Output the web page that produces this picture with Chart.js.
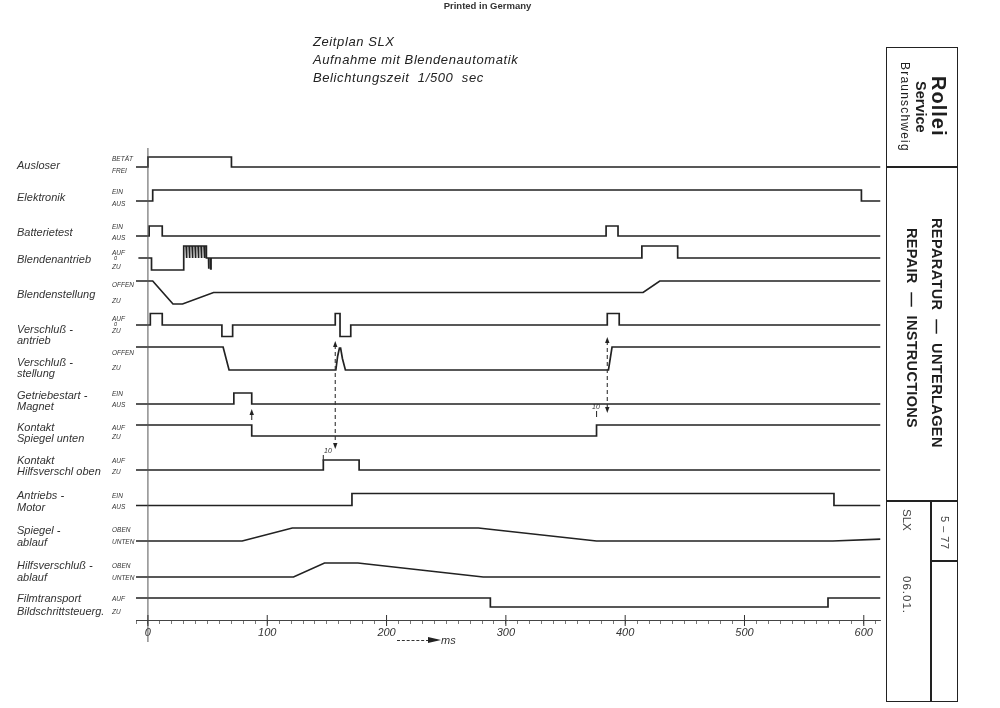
<!DOCTYPE html>
<html><head><meta charset="utf-8">
<script src="https://cdn.jsdelivr.net/npm/chart.js@4.4.1/dist/chart.umd.min.js"></script>
<style>
html,body{margin:0;padding:0;background:#fff;}
#wrap{position:relative;width:1000px;height:708px;overflow:hidden;font-family:"Liberation Sans",Arial,sans-serif;color:#2a2a2a;}
#c{position:absolute;left:0;top:0;}
.t{position:absolute;white-space:nowrap;}
.lbl{font-style:italic;font-size:11px;line-height:12px;left:17px;color:#333;}
.st{font-style:italic;font-size:6.5px;line-height:7px;left:112px;color:#333;}
.ttl{font-style:italic;font-size:13px;line-height:18px;left:313px;letter-spacing:0.6px;color:#222;}
.v{position:absolute;writing-mode:vertical-rl;text-align:center;white-space:nowrap;color:#1e1e1e;}
.ln{position:absolute;background:#222;}
</style></head>
<body><div id="wrap">
<canvas id="c" width="1000" height="708"></canvas>
<div class="t" style="left:0;width:975px;text-align:center;top:0;font-size:9.5px;font-weight:bold;color:#333;">Printed in Germany</div>
<div class="t ttl" style="top:33px;">Zeitplan SLX</div>
<div class="t ttl" style="top:51px;">Aufnahme mit Blendenautomatik</div>
<div class="t ttl" style="top:69px;">Belichtungszeit&nbsp; 1/500&nbsp; sec</div>
<div id="labels"></div>
<div class="t" style="left:397px;top:640px;width:32px;border-top:1.5px dashed #333;"></div>
<div class="t" style="left:428px;top:637px;width:0;height:0;border-top:3.5px solid transparent;border-bottom:3.5px solid transparent;border-left:13px solid #222;"></div>
<div class="t" style="left:441px;top:634px;font-style:italic;font-size:11px;color:#333;">ms</div>
<div class="t" style="left:324px;top:447px;font-style:italic;font-size:7px;color:#333;">10</div>
<div class="t" style="left:592px;top:403px;font-style:italic;font-size:7px;color:#333;">10</div>
<!-- right panel -->
<div class="t" style="left:886px;top:47px;width:72px;height:655px;border:1.5px solid #222;box-sizing:border-box;"></div>
<div class="ln" style="left:886px;top:166px;width:72px;height:1.5px;"></div>
<div class="ln" style="left:886px;top:500px;width:72px;height:1.5px;"></div>
<div class="ln" style="left:930px;top:500px;width:1.5px;height:202px;"></div>
<div class="ln" style="left:930px;top:560px;width:28px;height:1.5px;"></div>
<div class="v" style="left:928px;top:47px;height:119px;width:21px;line-height:21px;font-size:20px;font-weight:bold;letter-spacing:1px;">Rollei</div>
<div class="v" style="left:913px;top:47px;height:119px;width:15px;line-height:15px;font-size:14.5px;font-weight:bold;">Service</div>
<div class="v" style="left:898px;top:47px;height:119px;width:13px;line-height:13px;font-size:12px;letter-spacing:1.2px;">Braunschweig</div>
<div class="v" style="left:929px;top:166px;height:334px;width:16px;line-height:16px;font-size:14.5px;font-weight:bold;letter-spacing:0.4px;">REPARATUR&nbsp; —&nbsp; UNTERLAGEN</div>
<div class="v" style="left:904px;top:166px;height:324px;width:16px;line-height:16px;font-size:14.5px;font-weight:bold;letter-spacing:0.3px;">REPAIR&nbsp; —&nbsp; INSTRUCTIONS</div>
<div class="v" style="left:900px;top:509px;width:13px;line-height:13px;font-size:11.5px;text-align:left;color:#444;">SLX</div>
<div class="v" style="left:900px;top:576px;width:13px;line-height:13px;font-size:11.5px;text-align:left;letter-spacing:1px;color:#444;">06.01.</div>
<div class="v" style="left:938px;top:516px;width:13px;line-height:13px;font-size:11px;text-align:left;letter-spacing:0.5px;color:#444;">5 – 77</div>
</div>
<script>
// ---------------- DATA ----------------
const tickLabels = [0, 100, 200, 300, 400, 500, 600];
const signalNames = [["Ausloser"],["Elektronik"],["Batterietest"],["Blendenantrieb"],["Blendenstellung"],
  ["Verschluß -","antrieb"],["Verschluß -","stellung"],["Getriebestart -","Magnet"],["Kontakt","Spiegel unten"],
  ["Kontakt","Hilfsverschl oben"],["Antriebs -","Motor"],["Spiegel -","ablauf"],["Hilfsverschluß -","ablauf"],
  ["Filmtransport","Bildschrittsteuerg."]];
const stateLabels = [["BETÄT","FREI"],["EIN","AUS"],["EIN","AUS"],["AUF","0","ZU"],["OFFEN","ZU"],["AUF","0","ZU"],
  ["OFFEN","ZU"],["EIN","AUS"],["AUF","ZU"],["AUF","ZU"],["EIN","AUS"],["OBEN","UNTEN"],["OBEN","UNTEN"],["AUF","ZU"]];
// [time ms, state level]
const ausloser = [[-10,0],[0,0],[0,1],[70,1],[70,0],[614,0]];
const elektronik = [[-10,0],[4,0],[4,1],[598,1],[598,0],[614,0]];
const batterietest = [[-10,0],[1,0],[1,1],[12,1],[12,0],[384,0],[384,1],[394,1],[394,0],[614,0]];
const blendenantrieb = [[-8,0],[3,0],[3,-1],[30,-1],[30,1],
  [32,1],[32,0],[32.7,0],[32.7,1],[34.5,1],[34.5,0],[35.2,0],[35.2,1],[37,1],[37,0],[37.7,0],[37.7,1],
  [39.5,1],[39.5,0],[40.2,0],[40.2,1],[42,1],[42,0],[42.7,0],[42.7,1],[44.5,1],[44.5,0],[45.2,0],[45.2,1],
  [47,1],[47,0],[47.7,0],[47.7,1],[49,1],[49,0],
  [50.8,0],[50.8,-0.9],[51.1,-0.9],[51.1,0],[52.6,0],[52.6,-0.9],[52.9,-0.9],[52.9,0],
  [414,0],[414,1],[444,1],[444,0],[614,0]];
const blendenstellung = [[-10,1],[4,1],[21,0],[29,0],[55,0.5],[415,0.5],[429,1],[614,1]];
const verschlussAntrieb = [[-10,0],[2,0],[2,1],[12,1],[12,0],[62,0],[62,-1],[71,-1],[71,0],
  [157,0],[157,1],[161,1],[161,-1],[170,-1],[170,0],[385,0],[385,1],[395,1],[395,0],[614,0]];
const verschlussStellung = [[-10,1],[63,1],[68,0],[157.5,0],[159,0.6],[160.5,0.95],[161.5,0.95],[163,0.5],[165.5,0],
  [386,0],[389,1],[614,1]];
const getriebestart = [[-10,0],[72,0],[72,1],[87,1],[87,0],[614,0]];
const kontaktSpiegel = [[-10,1],[87,1],[87,0],[376,0],[376,1],[614,1]];
const kontaktHilfs = [[-10,0],[147,0],[147,1],[177,1],[177,0],[614,0]];
const antriebsMotor = [[-10,0],[171,0],[171,1],[575,1],[575,0],[614,0]];
const spiegelAblauf = [[-10,0],[79,0],[121,1],[277,1],[376,0],[574,0],[614,0.15]];
const hilfsAblauf = [[-10,0],[122,0],[148,1],[176,1],[281,0],[614,0]];
const filmtransport = [[-10,1],[287,1],[287,0],[570,0],[570,1],[614,1]];
const signals = [ausloser, elektronik, batterietest, blendenantrieb, blendenstellung, verschlussAntrieb,
  verschlussStellung, getriebestart, kontaktSpiegel, kontaktHilfs, antriebsMotor, spiegelAblauf, hilfsAblauf, filmtransport];
// arrows: time, from/to in track units
const dashedArrows = [{t:157, y1:341, y2:449}, {t:385, y1:337, y2:413}];
const smallArrow = {t:87, y1:420, y2:409};
const dimMarks = [{t:147, y1:455, y2:461}, {t:376, y1:411, y2:417}];

// ---------------- LAYOUT ----------------
const rowZero = [167,201,236,258,304,325,370,404,436,470,505.5,541,577,607];
const rowUnit = [10,11,10,12,23,11.5,23,11,11,10,12,13,14,9];
const labelY = [[165],[197],[232],[259],[294],[329,340],[362,373],[395,406],[427,438],[460,471],[495,507],[530,542],[565,577],[598,611]];
const stateY = [[158,170],[191,203],[226,237],[252,258.5,266],[284,300],[318,324,330.5],[352,367],[393,404],[427,436],[460,471],[495,506],[529,541],[565,577],[598,611]];

const lab = document.getElementById('labels');
signalNames.forEach((lines,i)=>{
  lines.forEach((s,j)=>{
    const d=document.createElement('div'); d.className='t lbl'; d.textContent=s;
    d.style.top=(labelY[i][j]-6)+'px'; lab.appendChild(d);
  });
  stateLabels[i].forEach((s,j)=>{
    const d=document.createElement('div'); d.className='t st'; d.textContent=s;
    if(s==='0'){d.style.fontSize='5.5px';d.style.left='114px';}
    d.style.top=(stateY[i][j]-3.5)+'px'; lab.appendChild(d);
  });
});

const datasets = signals.map((s,i)=>({
  data: s.map(([t,v])=>({x:t, y: rowZero[i] - v*rowUnit[i]})),
  borderColor:'#222', borderWidth:1.7, pointRadius:0, tension:0, fill:false,
  borderJoinStyle:'miter', borderCapStyle:'butt'
}));

function arrowHead(ctx, x, y, dir){
  ctx.beginPath(); ctx.moveTo(x, y); ctx.lineTo(x-2.2, y-dir*6); ctx.lineTo(x+2.2, y-dir*6); ctx.closePath(); ctx.fill();
}
const annot = {
  id:'annot',
  afterDatasetsDraw(chart){
    const {ctx, scales:{x,y}} = chart;
    ctx.save();
    ctx.strokeStyle='#555'; ctx.fillStyle='#222'; ctx.lineWidth=1;
    const x0 = x.getPixelForValue(0);
    ctx.beginPath(); ctx.moveTo(x0, y.getPixelForValue(148)); ctx.lineTo(x0, y.getPixelForValue(642)); ctx.stroke();
    ctx.strokeStyle='#333'; ctx.lineWidth=1;
    const b = chart.chartArea.bottom;
    tickLabels.forEach(v=>{ const px=x.getPixelForValue(v); ctx.beginPath(); ctx.moveTo(px,b-5); ctx.lineTo(px,b+6); ctx.stroke(); });
    ctx.strokeStyle='#333'; ctx.lineWidth=1.1; ctx.setLineDash([4,3]);
    dashedArrows.forEach(a=>{
      const px=x.getPixelForValue(a.t), p1=y.getPixelForValue(a.y1), p2=y.getPixelForValue(a.y2);
      ctx.beginPath(); ctx.moveTo(px,p1+4); ctx.lineTo(px,p2-4); ctx.stroke();
    });
    ctx.setLineDash([]);
    dashedArrows.forEach(a=>{
      const px=x.getPixelForValue(a.t);
      arrowHead(ctx, px, y.getPixelForValue(a.y1), -1);
      arrowHead(ctx, px, y.getPixelForValue(a.y2), 1);
    });
    { const px=x.getPixelForValue(smallArrow.t);
      ctx.beginPath(); ctx.moveTo(px,y.getPixelForValue(smallArrow.y1)); ctx.lineTo(px,y.getPixelForValue(smallArrow.y2)+4); ctx.stroke();
      arrowHead(ctx, px, y.getPixelForValue(smallArrow.y2), -1); }
    dimMarks.forEach(m=>{ const px=x.getPixelForValue(m.t); ctx.beginPath(); ctx.moveTo(px,y.getPixelForValue(m.y1)); ctx.lineTo(px,y.getPixelForValue(m.y2)); ctx.stroke(); });
    ctx.restore();
  }
};

Chart.defaults.font.family = "'Liberation Sans', Arial, sans-serif";
new Chart(document.getElementById('c'), {
  type:'line',
  data:{datasets},
  options:{
    responsive:false, animation:false, devicePixelRatio:1,
    layout:{padding:{left:136, right:119.5, top:140, bottom:0}},
    plugins:{legend:{display:false}, tooltip:{enabled:false}},
    scales:{
      x:{type:'linear', min:-10, max:614, position:'bottom',
        afterFit(scale){ scale.height = 88; },
        border:{display:true, color:'#444', width:1, dash:[9,2,2,2]},
        grid:{display:true, drawOnChartArea:false, drawTicks:true, tickLength:4, color:'#555', lineWidth:0.8},
        ticks:{stepSize:10, autoSkip:false, includeBounds:false, maxRotation:0, padding:2,
          color:'#333', font:{size:11, style:'italic'},
          callback:(v)=> tickLabels.includes(v) ? String(v) : ''}
      },
      y:{type:'linear', display:false, min:140, max:620, reverse:true}
    }
  },
  plugins:[annot]
});
</script>
</body></html>
